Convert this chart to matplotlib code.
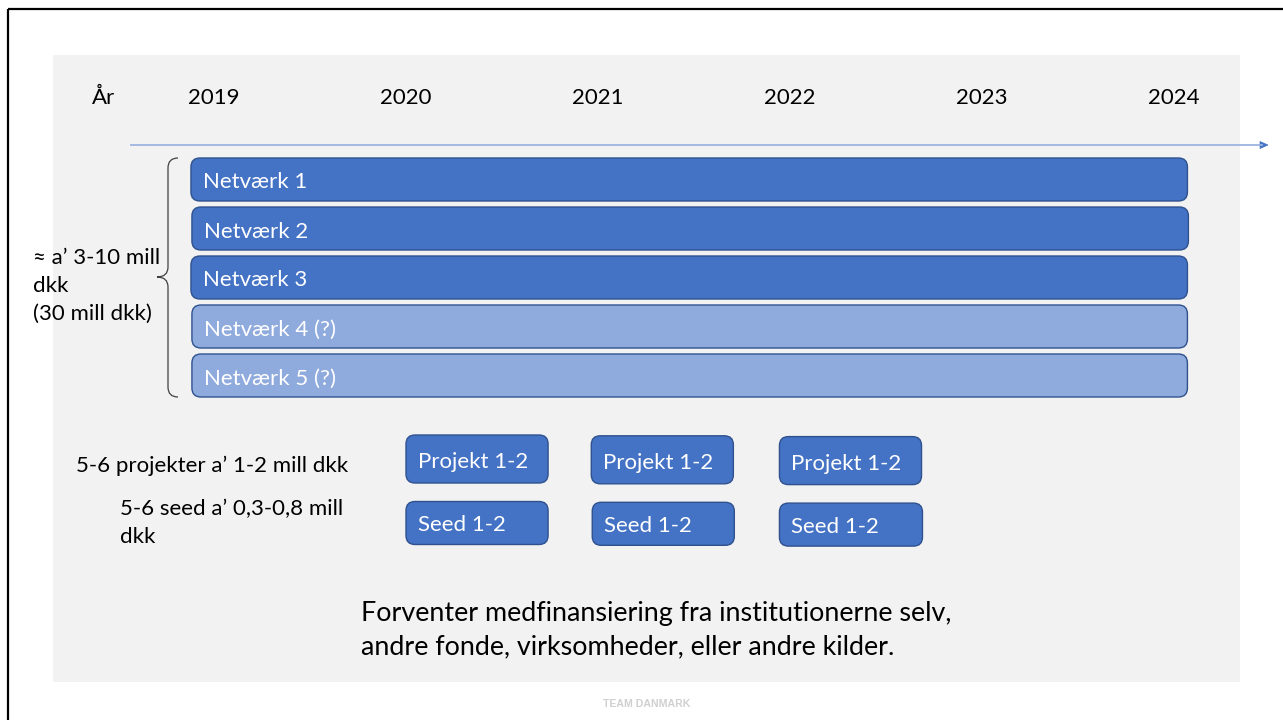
import matplotlib
matplotlib.use("Agg")
import matplotlib.pyplot as plt
from matplotlib.patches import FancyBboxPatch, Rectangle, PathPatch, Polygon
from matplotlib.path import Path

plt.rcParams['font.family'] = ['Lato', 'DejaVu Sans']

# ---------------- data ----------------
years = [2019, 2020, 2021, 2022, 2023, 2024]
year_label = "År"

networks = ["Netværk 1", "Netværk 2", "Netværk 3", "Netværk 4 (?)", "Netværk 5 (?)"]
network_start = [2018.88, 2018.885, 2018.88, 2018.885, 2018.885]
network_end = [2024.07, 2024.075, 2024.07, 2024.07, 2024.07]
network_certain = [True, True, True, False, False]

projects = ["Projekt 1-2", "Projekt 1-2", "Projekt 1-2"]
project_start = [2020.0, 2020.965, 2021.945]
project_width = [0.74, 0.74, 0.74]

seeds = ["Seed 1-2", "Seed 1-2", "Seed 1-2"]
seed_start = [2020.0, 2020.97, 2021.945]
seed_width = [0.74, 0.74, 0.745]

network_note = ["≈ a’ 3-10 mill", "dkk", "(30 mill dkk)"]
project_note = "5-6 projekter a’ 1-2 mill dkk"
seed_note = ["5-6 seed a’ 0,3-0,8 mill", "dkk"]
footer_text = ["Forventer medfinansiering fra institutionerne selv,",
               "andre fonde, virksomheder, eller andre kilder."]
brand = "TEAM DANMARK"

# ---------------- figure ----------------
W, H = 1283, 720
fig = plt.figure(figsize=(W / 100, H / 100), dpi=100)
fig.patch.set_facecolor("white")

# canvas axes in pixel coordinates
cv = fig.add_axes([0, 0, 1, 1])
cv.set_xlim(0, W)
cv.set_ylim(H, 0)
cv.axis("off")

# timeline axes: x in years, y in pixels
x0_px, px_per_year = 214, 192
tl = fig.add_axes([0, 0, 1, 1])
tl.set_xlim(2019 - x0_px / px_per_year, 2019 + (W - x0_px) / px_per_year)
tl.set_ylim(H, 0)
tl.axis("off")
tl.patch.set_alpha(0)

# frame & panel
cv.plot([8, W], [9, 9], color="black", lw=1.6, solid_capstyle="butt")
cv.plot([8, 8], [9, H], color="black", lw=1.6, solid_capstyle="butt")
cv.add_patch(Rectangle((53, 55), 1187, 627, facecolor="#f2f2f2", edgecolor="none"))

DARK = "#4472c4"
LIGHT = "#8faadc"
EDGE = "#2f528f"
TXT = 16

# year header
cv.text(104, 98, year_label, ha="center", va="center", fontsize=TXT, color="black")
for y in years:
    tl.text(y, 98, str(y), ha="center", va="center", fontsize=TXT, color="black")

# arrow
cv.plot([131, 1262], [145, 145], color="#9db3e0", lw=1.3)
cv.add_patch(Polygon([[1260, 141.5], [1268, 145], [1260, 148.5]], closed=True,
                     facecolor=DARK, edgecolor=DARK, lw=0.5))

def rbox(x, w, yc, h, color, label, fs, pad_px=12, dy=3):
    box = FancyBboxPatch((x, yc - h / 2), w, h,
                         boxstyle="round,pad=0,rounding_size=%f" % (9 / px_per_year),
                         mutation_aspect=px_per_year,
                         facecolor=color, edgecolor=EDGE, lw=1.0)
    tl.add_patch(box)
    tl.text(x + pad_px / px_per_year, yc + dy, label, ha="left", va="center",
            fontsize=fs, color="white")

# networks
for i, name in enumerate(networks):
    yc = 179.5 + i * 49
    rbox(network_start[i], network_end[i] - network_start[i], yc, 43,
         DARK if network_certain[i] else LIGHT, name, TXT)

# projects & seeds
for i in range(len(projects)):
    rbox(project_start[i], project_width[i], 459 + i * 0.8, 48, DARK, projects[i], TXT, dy=3)
for i in range(len(seeds)):
    rbox(seed_start[i], seed_width[i], 523 + i * 0.8, 43, DARK, seeds[i], TXT, dy=2)

# brace
verts = [(178, 158), (168, 158), (168, 168),
         (168, 267), (168, 277), (157, 277),
         (168, 277), (168, 287),
         (168, 387), (168, 397), (178, 397)]
codes = [Path.MOVETO, Path.CURVE3, Path.CURVE3,
         Path.LINETO, Path.CURVE3, Path.CURVE3,
         Path.CURVE3, Path.CURVE3,
         Path.LINETO, Path.CURVE3, Path.CURVE3]
cv.add_patch(PathPatch(Path(verts, codes), facecolor="none", edgecolor="#404040", lw=0.9))

# left notes
for k, line in enumerate(network_note):
    cv.text(33, 258 + k * 28, line, ha="left", va="center", fontsize=TXT, color="black")
cv.text(76, 466, project_note, ha="left", va="center", fontsize=TXT, color="black")
for k, line in enumerate(seed_note):
    cv.text(120, 509 + k * 28, line, ha="left", va="center", fontsize=TXT, color="black")

# footer
for k, line in enumerate(footer_text):
    cv.text(361, 613 + k * 34, line, ha="left", va="center", fontsize=19.4, color="black")

cv.text(647, 704, brand, ha="center", va="center", fontsize=7.6, fontweight="bold",
        color="#d0d0d0", family=["Liberation Sans", "DejaVu Sans"])

fig.savefig("out.png", dpi=100, facecolor="white")
